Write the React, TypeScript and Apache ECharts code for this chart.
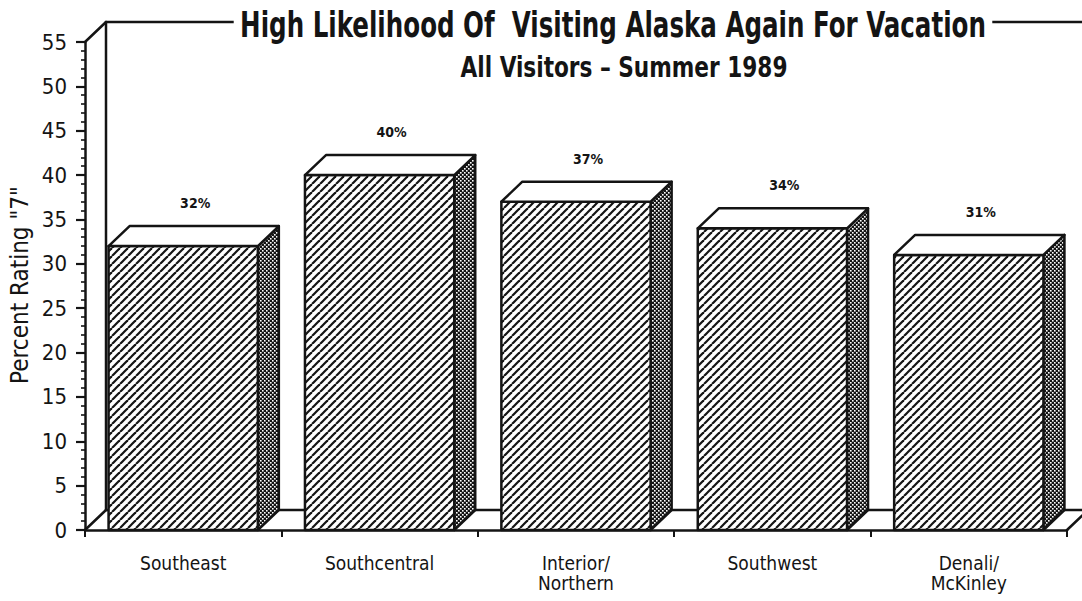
import React, { useEffect, useRef } from 'react';
import * as echarts from 'echarts';

const categories = ['Southeast', 'Southcentral', 'Interior/\nNorthern', 'Southwest', 'Denali/\nMcKinley'];
const values = [32, 40, 37, 34, 31];
const yMin = 0;
const yMax = 55;
const yInterval = 5;
const titleText = 'High Likelihood Of  Visiting Alaska Again For Vacation';
const subtitleText = 'All Visitors \u2013 Summer 1989';
const yAxisName = 'Percent Rating "7"';

const FONT = "'DejaVu Sans Condensed', 'Liberation Sans Narrow', 'Arial Narrow', sans-serif";
const DX = 21;
const DY = -20;
const INK = '#141414';

function makeTile(w: number, h: number, draw: (ctx: CanvasRenderingContext2D) => void): string {
  const c = document.createElement('canvas');
  c.width = w;
  c.height = h;
  const ctx = c.getContext('2d') as CanvasRenderingContext2D;
  draw(ctx);
  return c.toDataURL();
}

export default function App() {
  const ref = useRef<HTMLDivElement>(null);
  useEffect(() => {
    if (!ref.current) return;
    const chart = echarts.init(ref.current, null, { renderer: 'svg' });

    const hatchUrl = makeTile(8, 8, (ctx) => {
      ctx.fillStyle = '#fff';
      ctx.fillRect(0, 0, 8, 8);
      ctx.strokeStyle = INK;
      ctx.lineWidth = 2.2;
      for (const o of [-8, 0, 8]) {
        ctx.beginPath();
        ctx.moveTo(o, 8);
        ctx.lineTo(o + 8, 0);
        ctx.stroke();
      }
    });
    const dotsUrl = makeTile(4, 4, (ctx) => {
      ctx.fillStyle = INK;
      ctx.fillRect(0, 0, 4, 4);
      ctx.fillStyle = '#fff';
      ctx.fillRect(0, 0, 1.6, 1.6);
      ctx.fillRect(2, 2, 1.6, 1.6);
    });
    const hatch: any = { image: hatchUrl, repeat: 'repeat', imageWidth: 8, imageHeight: 8 };
    const dots: any = { image: dotsUrl, repeat: 'repeat', imageWidth: 4, imageHeight: 4 };

    const edge = { stroke: INK, lineWidth: 2.5, lineJoin: 'round' };

    const option: any = {
      animation: false,
      backgroundColor: '#fff',
      graphic: [
        {
          type: 'text',
          z: 100,
          x: 613,
          y: 25,
          scaleX: 0.78,
          style: {
            text: titleText,
            fill: INK,
            font: `bold 35px ${FONT}`,
            textAlign: 'center',
            textVerticalAlign: 'middle',
            backgroundColor: '#fff',
            padding: [0, 8],
          },
        },
        {
          type: 'text',
          z: 100,
          x: 624,
          y: 67,
          scaleX: 0.83,
          style: {
            text: subtitleText,
            fill: INK,
            font: `bold 29px ${FONT}`,
            textAlign: 'center',
            textVerticalAlign: 'middle',
          },
        },
        {
          type: 'text',
          z: 100,
          x: 20,
          y: 285,
          rotation: Math.PI / 2,
          style: {
            text: yAxisName,
            fill: INK,
            font: `24px ${FONT}`,
            textAlign: 'center',
            textVerticalAlign: 'middle',
          },
        },
      ],
      grid: { left: 85, right: 15, top: 42, bottom: 71, containLabel: false },
      xAxis: {
        type: 'category',
        data: categories,
        boundaryGap: true,
        axisLine: { show: true, lineStyle: { color: INK, width: 2.5 } },
        axisTick: { show: true, length: 7, lineStyle: { color: INK, width: 2 } },
        axisLabel: { color: INK, fontFamily: FONT, fontSize: 19, lineHeight: 20, margin: 23, interval: 0 },
        splitLine: { show: false },
      },
      yAxis: {
        type: 'value',
        min: yMin,
        max: yMax,
        interval: yInterval,
        axisLine: { show: true, lineStyle: { color: INK, width: 2.5 } },
        axisTick: { show: true, length: 9, lineStyle: { color: INK, width: 2.2 } },
        minorTick: { show: true, splitNumber: 5, length: 4, lineStyle: { color: INK, width: 1.6 } },
        axisLabel: { color: INK, fontFamily: FONT, fontSize: 22, margin: 18 },
        splitLine: { show: false },
        minorSplitLine: { show: false },
      },
      series: [
        {
          type: 'custom',
          name: 'frame',
          z: 1,
          silent: true,
          data: [[0, 0]],
          encode: { x: 0, y: 1 },
          renderItem: (params: any, api: any) => {
            const cs = params.coordSys;
            const x0 = cs.x;
            const x1 = cs.x + cs.width;
            const yTop = cs.y;
            const yBot = cs.y + cs.height;
            const ln = (a: number[], b: number[]) => ({
              type: 'line',
              shape: { x1: a[0], y1: a[1], x2: b[0], y2: b[1] },
              style: { stroke: INK, lineWidth: 2.5, lineCap: 'round' },
            });
            return {
              type: 'group',
              children: [
                ln([x0 + DX, yBot + DY], [x0 + DX, yTop + DY]),
                ln([x0, yTop], [x0 + DX, yTop + DY]),
                ln([x0 + DX, yTop + DY], [x1 + DX + 20, yTop + DY]),
                ln([x0, yBot], [x0 + DX, yBot + DY]),
                ln([x0 + DX, yBot + DY], [x1 + DX + 20, yBot + DY]),
                ln([x1, yBot], [x1 + DX, yBot + DY]),
              ],
            };
          },
        },
        {
          type: 'custom',
          name: 'Percent Rating "7"',
          z: 3,
          data: values.map((v, i) => [i, v]),
          encode: { x: 0, y: 1 },
          renderItem: (params: any, api: any) => {
            const i = api.value(0);
            const v = api.value(1);
            const b = api.coord([i, 0]);
            const t = api.coord([i, v]);
            const band = api.size([1, 0])[0];
            const fw = band * 0.76;
            const xl = b[0] - fw / 2;
            const xr = b[0] + fw / 2;
            const yb = b[1];
            const yt = t[1];
            return {
              type: 'group',
              children: [
                {
                  type: 'polygon',
                  shape: { points: [[xr, yt], [xr + DX, yt + DY], [xr + DX, yb + DY], [xr, yb]] },
                  style: { fill: dots, ...edge },
                },
                {
                  type: 'rect',
                  shape: { x: xl, y: yt, width: fw, height: yb - yt },
                  style: { fill: hatch, ...edge },
                },
                {
                  type: 'polygon',
                  shape: { points: [[xl, yt], [xl + DX, yt + DY], [xr + DX, yt + DY], [xr, yt]] },
                  style: { fill: '#fff', ...edge },
                },
                {
                  type: 'text',
                  x: b[0] + 12,
                  y: yt + DY - 23,
                  style: {
                    text: v + '%',
                    fill: INK,
                    font: `bold 14px ${FONT}`,
                    textAlign: 'center',
                    textVerticalAlign: 'middle',
                  },
                },
              ],
            };
          },
        },
      ],
    };
    chart.setOption(option);
    return () => chart.dispose();
  }, []);
  return <div ref={ref} style={{ position: 'fixed', left: 0, top: 0, width: 1082, height: 601, background: '#fff' }} />;
}
